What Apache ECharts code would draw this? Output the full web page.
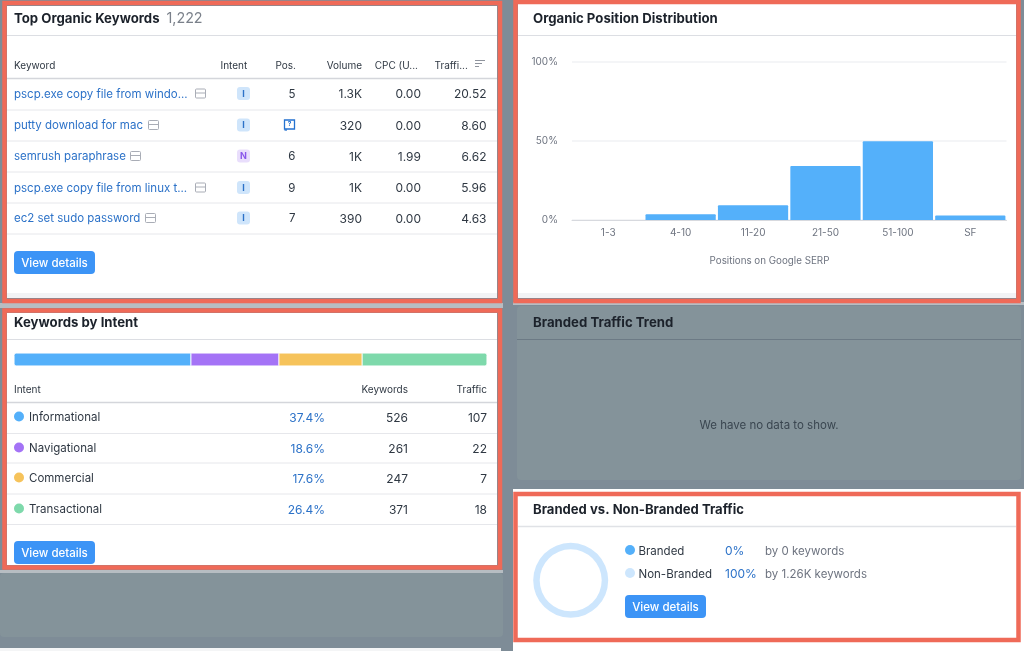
<!DOCTYPE html>
<html>
<head>
<meta charset="utf-8">
<title>Organic overview</title>
<script src="https://cdn.jsdelivr.net/npm/echarts@6/dist/echarts.min.js"></script>
<style>
  html, body { margin: 0; padding: 0; background: #ffffff; }
  #chart { width: 1024px; height: 651px; }
</style>
</head>
<body>
<div id="chart"></div>
<script>
// top keywords table
const keywords = ['pscp.exe copy file from windo...', 'putty download for mac', 'semrush paraphrase', 'pscp.exe copy file from linux t...', 'ec2 set sudo password'];
const keywordIntents = ['I', 'I', 'N', 'I', 'I'];
const keywordPositions = ['5', null, '6', '9', '7'];
const keywordVolumes = ['1.3K', '320', '1K', '1K', '390'];
const keywordCpcs = ['0.00', '0.00', '1.99', '0.00', '0.00'];
const keywordTraffic = ['20.52', '8.60', '6.62', '5.96', '4.63'];

// position distribution
const positionBuckets = ['1-3', '4-10', '11-20', '21-50', '51-100', 'SF'];
const positionShares = [0, 3.6, 9.3, 34.2, 49.8, 2.8];

// intent table
const intentNames = ['Informational', 'Navigational', 'Commercial', 'Transactional'];
const intentShares = [37.4, 18.6, 17.6, 26.4];
const intentKeywords = [526, 261, 247, 371];
const intentTraffic = [107, 22, 7, 18];

// branded traffic
const brandedNames = ['Branded', 'Non-Branded'];
const brandedShares = [0, 100];
const brandedNotes = ['by 0 keywords', 'by 1.26K keywords'];

const FONT = 'Inter, "Noto Sans", sans-serif';
const intentColors = ['#54b0fa', '#a473f6', '#f6c35b', '#7ed9ab'];
const brandedColors = ['#54b0fa', '#cde6fd'];
const RED = '#ef6a58';
const DARK = '#1c222b';
const BODY = '#2f3843';
const MUTED = '#6e7480';
const LINK = '#2c72c8';
const BTN = '#3c94f6';
const LINE = '#dcdee3';
const PANEL_Z = -2;

// layout of table rows, not data
const kwRowY = [93.5, 125, 156, 187.5, 218];
const kwDividerY = [110, 141, 172, 203, 234];
const kwIconX = [195, 148, 130, 195, 145];
const intentRowY = [417, 448, 478, 509];
const intentDividerY = [433.5, 463, 494, 524.5];
const brandedRowY = [550.5, 573.5];

const els = [];

function text(str, x, y, o) {
  o = o || {};
  els.push({
    type: 'text', x: x, y: y + 1, z: o.z || 10,
    style: {
      text: str, fill: o.color || BODY,
      font: (o.weight || 400) + ' ' + (o.size || 11.5) + 'px ' + FONT,
      textAlign: o.align || 'left', textVerticalAlign: 'middle'
    }
  });
}
function rect(x, y, w, h, fill, o) {
  o = o || {};
  els.push({
    type: 'rect', z: o.z === undefined ? PANEL_Z : o.z,
    shape: { x: x, y: y, width: w, height: h, r: o.r || 0 },
    style: { fill: fill, stroke: o.stroke || null, lineWidth: o.lineWidth || 0 }
  });
}
function hline(x1, x2, y, color, width) {
  els.push({
    type: 'line', z: 2,
    shape: { x1: x1, y1: y, x2: x2, y2: y },
    style: { stroke: color || LINE, lineWidth: width || 1 }
  });
}
function button(x, y) {
  rect(x, y, 81, 23, BTN, { r: 4, z: 3 });
  text('View details', x + 40.5, y + 11.5, { color: '#ffffff', size: 11.5, weight: 500, align: 'center' });
}
function redFrame(x, y, w, h) {
  rect(x, y, w, h, 'rgba(0,0,0,0)', { stroke: RED, lineWidth: 4.5, z: 20 });
}
function sheetIcon(x, y) {
  rect(x + 0.5, y - 4.5, 10, 9, 'rgba(0,0,0,0)', { stroke: '#a9adb6', lineWidth: 1, r: 1, z: 4 });
  hline(x + 0.5, x + 10.5, y - 0.5, '#a9adb6', 1);
}

// page background and panels
rect(0, 0, 1024, 651, '#7e8c97', { z: -5 });
rect(0, 648, 501, 3, '#f4f5f6', { z: -4 });
rect(513, 642, 511, 9, '#ffffff', { z: -4 });
rect(513, 489, 511, 153, '#ffffff', { z: -4 });
rect(0, 570, 503, 3, '#b7bdc2', { z: -4 });
rect(0, 303, 503, 5, '#b7bdc2', { z: -4 });
rect(513, 302, 511, 3, '#b7bdc2', { z: -4 });
rect(0, 573, 503, 64, '#84939a', { z: -3, r: 4 });
rect(517, 306, 504, 174, '#84939a', { z: -3, r: 4 });

rect(7, 6, 490, 292, '#ffffff');
rect(7, 293, 490, 5, '#f2f3f5');
rect(518, 4, 498, 294, '#ffffff');
rect(518, 293, 498, 5, '#f2f3f5');
rect(7, 313, 490, 252, '#ffffff');
rect(518, 497, 498, 141, '#ffffff');

// top organic keywords
text('Top Organic Keywords', 14, 18, { color: DARK, size: 13.2, weight: 700 });
text('1,222', 166.5, 18, { color: '#7a808a', size: 14.3 });
hline(7, 497, 35.5);
text('Keyword', 14, 65, { size: 10 });
text('Intent', 220.5, 65, { size: 10 });
text('Pos.', 296, 65, { size: 10, align: 'right' });
text('Volume', 362, 65, { size: 10, align: 'right' });
text('CPC (U...', 418, 65, { size: 10, align: 'right' });
text('Traffi...', 434.5, 65, { size: 10 });
hline(475, 485, 60.5, '#8f949d', 1);
hline(475, 482, 63.5, '#8f949d', 1);
hline(475, 479, 66.5, '#8f949d', 1);
hline(7, 497, 78.5, '#d4d6db', 1.5);
keywords.forEach(function (kw, i) {
  const y = kwRowY[i];
  text(kw, 14, y, { color: LINK, size: 11.5 });
  sheetIcon(kwIconX[i], y);
  const isNav = keywordIntents[i] === 'N';
  rect(237, y - 6.5, 13, 13, isNav ? '#e9defc' : '#cfe5fb', { r: 3, z: 3 });
  text(keywordIntents[i], 243.5, y - 0.5, { color: isNav ? '#8a57ea' : '#2c72c8', size: 9, weight: 700, align: 'center' });
  if (keywordPositions[i] !== null) {
    text(keywordPositions[i], 295.5, y, { size: 11.5, align: 'right' });
  } else {
    // serp feature bubble
    rect(284.5, y - 5, 10, 9, 'rgba(0,0,0,0)', { stroke: '#2472d0', lineWidth: 1.3, z: 4 });
    hline(284.5, 287, y + 5, '#2472d0', 1.3);
    text('?', 289.5, y - 1.5, { color: '#2472d0', size: 6.5, weight: 700, align: 'center' });
  }
  text(keywordVolumes[i], 362, y, { size: 12, align: 'right' });
  text(keywordCpcs[i], 421, y, { size: 12, align: 'right' });
  text(keywordTraffic[i], 486.5, y, { size: 12, align: 'right' });
  hline(7, 497, kwDividerY[i], '#e6e7eb');
});
button(14, 251);

// organic position distribution
text('Organic Position Distribution', 533, 18, { color: DARK, size: 13.2, weight: 700 });
hline(518, 1016, 35.5);
text('Positions on Google SERP', 769.5, 260, { color: MUTED, size: 9.8, align: 'center' });

// keywords by intent
text('Keywords by Intent', 14, 322, { color: DARK, size: 13.2, weight: 700 });
hline(7, 497, 339.5);
text('Intent', 14, 389, { size: 10 });
text('Keywords', 408, 389, { size: 10, align: 'right' });
text('Traffic', 487, 389, { size: 10, align: 'right' });
hline(7, 497, 402.5, '#d4d6db', 1.5);
intentNames.forEach(function (name, i) {
  const y = intentRowY[i];
  els.push({
    type: 'circle', z: 4,
    shape: { cx: 19, cy: y - 0.5, r: 5 },
    style: { fill: intentColors[i] }
  });
  text(name, 29, y, { size: 11.5 });
  text(intentShares[i].toFixed(1) + '%', 325, y, { color: LINK, size: 12, align: 'right' });
  text(String(intentKeywords[i]), 408, y, { size: 12, align: 'right' });
  text(String(intentTraffic[i]), 487, y, { size: 12, align: 'right' });
  hline(7, 497, intentDividerY[i], '#e6e7eb');
});
button(14, 541);

// branded traffic trend, empty state
text('Branded Traffic Trend', 533, 322, { color: DARK, size: 13.2, weight: 700 });
hline(517, 1021, 339.5, '#6c7a85');
text('We have no data to show.', 769, 425, { color: '#3a4650', size: 11.5, align: 'center' });

// branded vs non-branded
text('Branded vs. Non-Branded Traffic', 533, 509, { color: DARK, size: 13.1, weight: 700 });
hline(518, 1016, 526.5, '#e0e2e6', 1.5);
brandedNames.forEach(function (name, i) {
  const y = brandedRowY[i];
  els.push({
    type: 'circle', z: 4,
    shape: { cx: 630, cy: y - 0.5, r: 5 },
    style: { fill: brandedColors[i] }
  });
  text(name, 638.5, y, { size: 11.5 });
  text(brandedShares[i] + '%', 725, y, { color: LINK, size: 12 });
  text(brandedNotes[i], 765, y, { color: MUTED, size: 11.5 });
});
button(625, 595);

// red highlight frames sit on top of everything
redFrame(4.5, 3, 495.5, 298);
redFrame(515.5, 2, 503, 299);
redFrame(4.5, 310.5, 495.5, 257);
redFrame(515.5, 494, 503, 146);

const intentSeries = intentNames.map(function (name, i) {
  return {
    type: 'bar', name: name, stack: 'intent', xAxisIndex: 1, yAxisIndex: 1,
    barWidth: 13, silent: true,
    data: [intentShares[i]],
    itemStyle: {
      color: intentColors[i], borderColor: '#ffffff', borderWidth: 0.5,
      borderRadius: i === 0 ? [2, 0, 0, 2] : (i === 3 ? [0, 2, 2, 0] : 0)
    }
  };
});

const chart = echarts.init(document.getElementById('chart'), null, { renderer: 'canvas' });
chart.setOption({
  animation: false,
  textStyle: { fontFamily: FONT },
  graphic: { elements: els },
  grid: [
    { left: 572, top: 62, width: 434.5, height: 158 },
    { left: 14, top: 353, width: 473, height: 13 }
  ],
  xAxis: [
    {
      type: 'category', gridIndex: 0, data: positionBuckets,
      axisLine: { lineStyle: { color: '#d7d9de', width: 1 } },
      axisTick: { show: false },
      axisLabel: { color: MUTED, fontSize: 10, margin: 8, fontFamily: FONT }
    },
    { type: 'value', gridIndex: 1, min: 0, max: 100, show: false }
  ],
  yAxis: [
    {
      type: 'value', gridIndex: 0, min: 0, max: 100, interval: 50,
      axisLine: { show: false }, axisTick: { show: false },
      axisLabel: { color: MUTED, fontSize: 10, margin: 14, formatter: '{value}%', fontFamily: FONT },
      splitLine: { lineStyle: { color: '#f1f2f5', width: 1.5 } }
    },
    { type: 'category', gridIndex: 1, data: [''], show: false }
  ],
  series: [
    {
      type: 'bar', xAxisIndex: 0, yAxisIndex: 0, data: positionShares,
      barCategoryGap: '3%', silent: true,
      itemStyle: { color: '#54b0fa', borderRadius: [1, 1, 0, 0] }
    }
  ].concat(intentSeries).concat([
    {
      type: 'pie', silent: true, center: [570.7, 580.3], radius: [31, 37.5],
      label: { show: false }, labelLine: { show: false },
      data: brandedNames.map(function (name, i) {
        return { name: name, value: brandedShares[i], itemStyle: { color: brandedColors[i] } };
      })
    }
  ])
});
</script>
</body>
</html>
